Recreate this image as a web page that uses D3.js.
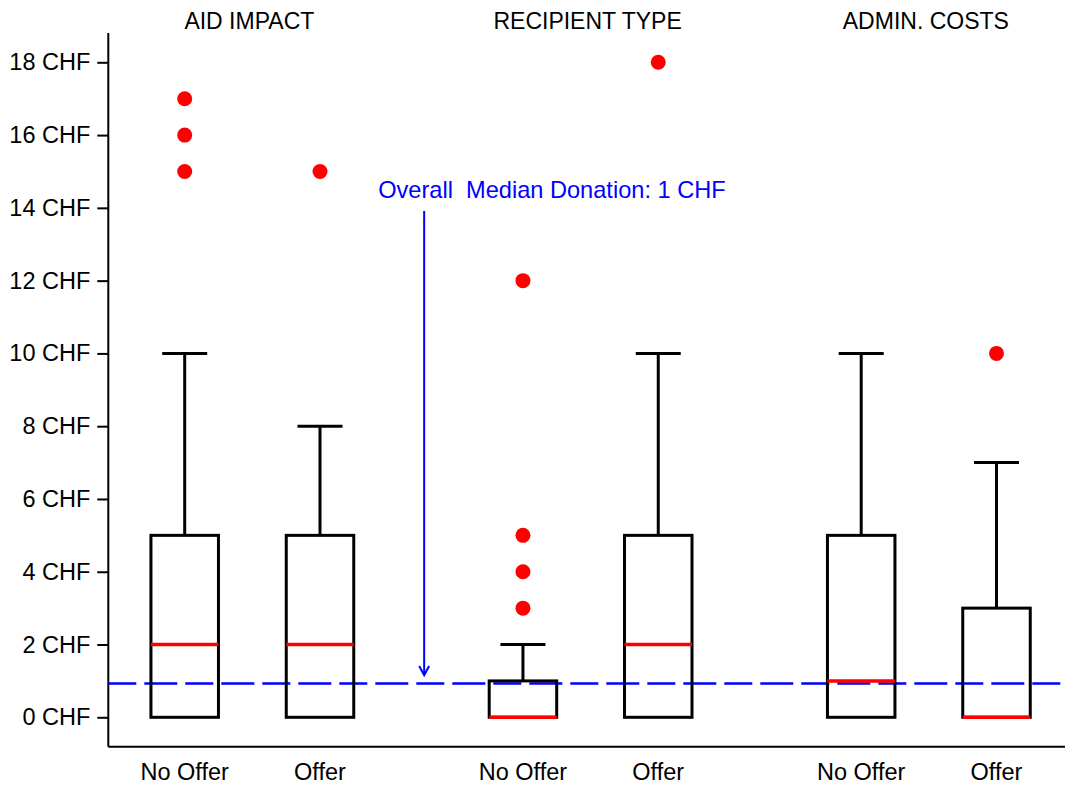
<!DOCTYPE html>
<html>
<head>
<meta charset="utf-8">
<script src="https://cdn.jsdelivr.net/npm/d3@7"></script>
<style>
  body { margin: 0; background: #fff; }
  text { font-family: "Liberation Sans", Arial, sans-serif; }
</style>
</head>
<body>
<div id="chart"></div>
<script>
// groups and conditions
const groups = ["AID IMPACT", "RECIPIENT TYPE", "ADMIN. COSTS"];
const conditions = ["No Offer", "Offer"];
const positions = [1, 2, 3.5, 4.5, 6, 7];

// box stats per box, in order of positions
const lowWhisker = [0, 0, 0, 0, 0, 0];
const q1 = [0, 0, 0, 0, 0, 0];
const medians = [2, 2, 0, 2, 1, 0];
const q3 = [5, 5, 1, 5, 5, 3];
const highWhisker = [10, 8, 2, 10, 10, 7];
const outliers = [[15, 16, 17], [15], [3, 4, 5, 12], [18], [], [10]];

const yTicks = [0, 2, 4, 6, 8, 10, 12, 14, 16, 18];
const overallMedian = 0.93;
const noteText = "Overall\u00a0 Median Donation: 1 CHF";

const width = 1065, height = 787;

const x = d3.scaleLinear().domain([1, 7]).range([184.7, 996.5]);
const y = d3.scaleLinear().domain([0, 18]).range([717.3, 62.3]);

const svg = d3.select("#chart").append("svg")
  .attr("width", width)
  .attr("height", height);

// axes lines
svg.append("line")
  .attr("x1", 108.3).attr("x2", 108.3)
  .attr("y1", 33).attr("y2", 746.7)
  .attr("stroke", "#000").attr("stroke-width", 2);
svg.append("line")
  .attr("x1", 108.3).attr("x2", width)
  .attr("y1", 746.7).attr("y2", 746.7)
  .attr("stroke", "#000").attr("stroke-width", 2);

// y axis
svg.append("g")
  .attr("transform", "translate(108.3,0)")
  .call(d3.axisLeft(y).tickValues(yTicks).tickSize(11).tickPadding(7)
    .tickFormat(d => d + " CHF"))
  .call(g => g.select(".domain").remove())
  .call(g => g.selectAll(".tick line").attr("stroke-width", 2))
  .call(g => g.selectAll(".tick text")
    .attr("font-size", 23.5).attr("fill", "#000")
    .attr("font-family", "Liberation Sans, Arial, sans-serif"));

// reference line
svg.append("line")
  .attr("x1", 108.3).attr("x2", width)
  .attr("y1", y(overallMedian)).attr("y2", y(overallMedian))
  .attr("stroke", "#0000ff").attr("stroke-width", 2.5)
  .attr("stroke-dasharray", "28,8,33,8");

// boxes
const boxW = 67.5, capW = 45;
const boxes = positions.map((p, i) => ({
  p, lo: lowWhisker[i], q1: q1[i], med: medians[i], q3: q3[i],
  hi: highWhisker[i], out: outliers[i]
}));

const bg = svg.append("g");
boxes.forEach(b => {
  const cx = x(b.p);
  const g = bg.append("g");
  // whisker
  g.append("line")
    .attr("x1", cx).attr("x2", cx)
    .attr("y1", y(b.q3)).attr("y2", y(b.hi))
    .attr("stroke", "#000").attr("stroke-width", 3);
  g.append("line")
    .attr("x1", cx - capW / 2).attr("x2", cx + capW / 2)
    .attr("y1", y(b.hi)).attr("y2", y(b.hi))
    .attr("stroke", "#000").attr("stroke-width", 3);
  // box
  g.append("rect")
    .attr("x", cx - boxW / 2).attr("width", boxW)
    .attr("y", y(b.q3)).attr("height", y(b.q1) - y(b.q3))
    .attr("fill", "none").attr("stroke", "#000").attr("stroke-width", 3);
  // median
  g.append("line")
    .attr("x1", cx - boxW / 2).attr("x2", cx + boxW / 2)
    .attr("y1", y(b.med)).attr("y2", y(b.med))
    .attr("stroke", "#ff0000").attr("stroke-width", 3.5);
  // outliers
  g.selectAll("circle").data(b.out).join("circle")
    .attr("cx", cx).attr("cy", d => y(d)).attr("r", 7.5)
    .attr("fill", "#ff0000");
});

// x labels
svg.append("g").selectAll("text")
  .data(positions).join("text")
  .attr("x", d => x(d)).attr("y", 780)
  .attr("text-anchor", "middle").attr("font-size", 23.5)
  .text((d, i) => conditions[i % 2]);

// group titles
svg.append("g").selectAll("text")
  .data(groups).join("text")
  .attr("x", (d, i) => x((positions[i * 2] + positions[i * 2 + 1]) / 2) - 3)
  .attr("y", 29)
  .attr("text-anchor", "middle").attr("font-size", 23)
  .text(d => d);

// annotation
svg.append("text")
  .attr("x", x(2.43)).attr("y", 198)
  .attr("font-size", 23.6).attr("fill", "#0000ff")
  .text(noteText);
const ax = x(2.77);
svg.append("line")
  .attr("x1", ax).attr("x2", ax)
  .attr("y1", 211).attr("y2", y(1.16))
  .attr("stroke", "#0000ff").attr("stroke-width", 2);
svg.append("path")
  .attr("d", `M${ax - 5},${y(1.16) - 9}L${ax},${y(1.16)}L${ax + 5},${y(1.16) - 9}`)
  .attr("fill", "none").attr("stroke", "#0000ff").attr("stroke-width", 2);
</script>
</body>
</html>
